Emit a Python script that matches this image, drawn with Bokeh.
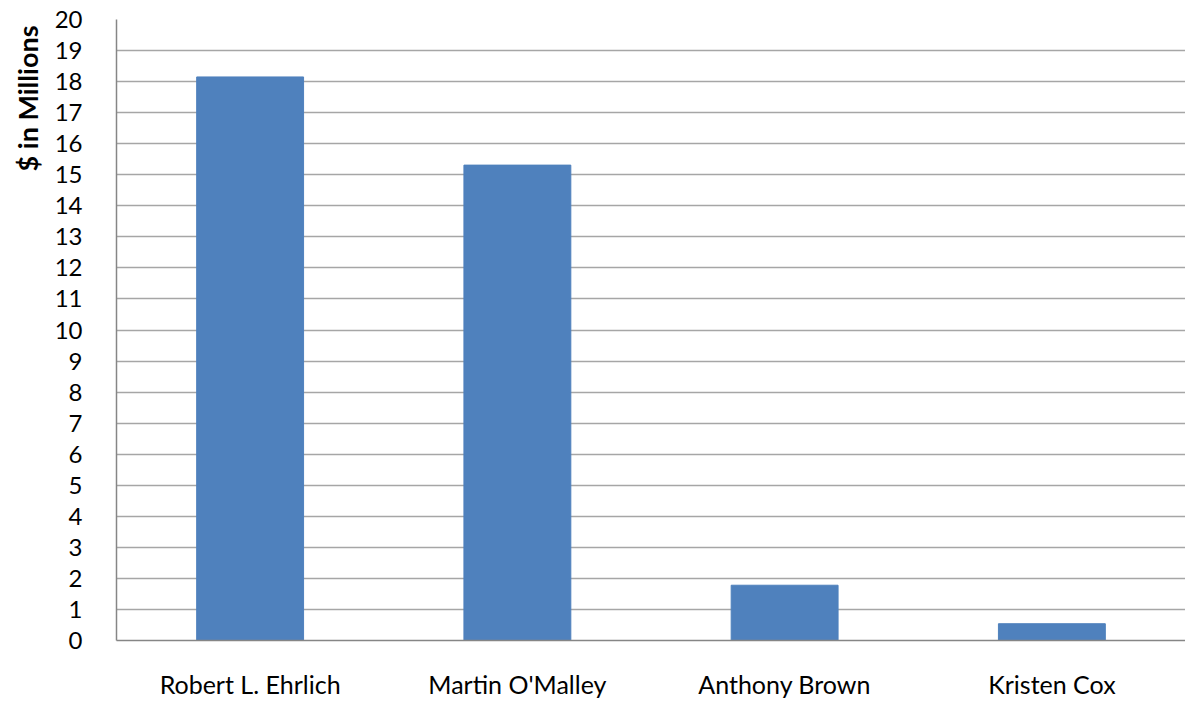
from bokeh.plotting import figure
from bokeh.models import Title
from bokeh.embed import file_html
from bokeh.resources import INLINE

# Campaign money raised per candidate, in millions of dollars
candidates = ["Robert L. Ehrlich", "Martin O'Malley", "Anthony Brown", "Kristen Cox"]
millions = [18.15, 15.31, 1.78, 0.54]
y_ticks = list(range(0, 21))

FONT = "Lato"
BAR_BLUE = "#4F81BD"

p = figure(
    x_range=candidates,
    y_range=(0, 20),
    frame_width=1069,
    frame_height=621,
    min_border_left=116,
    min_border_right=0,
    min_border_top=19,
    min_border_bottom=0,
    output_backend="svg",
    toolbar_location=None,
)

p.vbar(x=candidates, top=millions, width=0.4, fill_color=BAR_BLUE, line_color=BAR_BLUE)

p.outline_line_color = None
p.xgrid.grid_line_color = None
p.ygrid.grid_line_color = "#a6a6a6"
p.ygrid.grid_line_width = 1.5

p.yaxis.ticker = y_ticks
p.yaxis.axis_line_color = "#868686"
p.yaxis.axis_line_width = 1.5
p.yaxis.major_tick_line_color = None
p.yaxis.minor_tick_line_color = None
p.yaxis.major_label_text_font = FONT
p.yaxis.major_label_text_font_size = "24px"
p.yaxis.major_label_text_color = "#000000"
p.yaxis.major_label_standoff = 28

p.xaxis.axis_line_color = "#868686"
p.xaxis.axis_line_width = 1.5
p.xaxis.major_tick_line_color = None
p.xaxis.minor_tick_line_color = None
p.xaxis.major_label_text_font = FONT
p.xaxis.major_label_text_font_size = "25px"
p.xaxis.major_label_text_color = "#000000"
p.xaxis.major_label_standoff = 22

p.add_layout(
    Title(
        text="$ in Millions",
        align="right",
        offset=6,
        standoff=16,
        text_font=FONT,
        text_font_size="27px",
        text_font_style="bold",
        text_color="#000000",
    ),
    "left",
)

open("out.html", "w").write(file_html(p, INLINE))
